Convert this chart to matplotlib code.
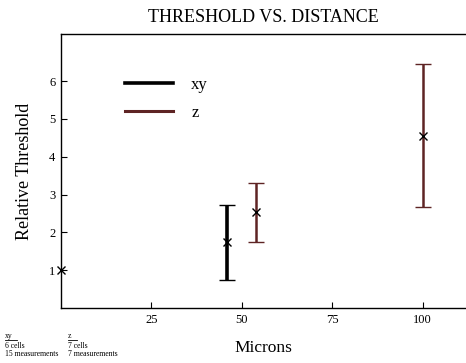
import matplotlib
matplotlib.use("Agg")
import matplotlib.pyplot as plt
from matplotlib.lines import Line2D

# data
xy_x = [0, 46]
xy_y = [1.0, 1.75]
xy_lo = [0.0, 1.0]   # distance below point
xy_hi = [0.0, 0.97]  # distance above point

z_x = [54, 100]
z_y = [2.53, 4.55]
z_lo = [0.77, 1.88]
z_hi = [0.79, 1.90]

xticks = [25, 50, 75, 100]
yticks = [1, 2, 3, 4, 5, 6]

z_color = "#5e2424"
serif = ["Liberation Serif", "DejaVu Serif"]


def main():
    plt.rcParams["font.family"] = serif
    fig = plt.figure(figsize=(4.66, 3.63), dpi=100)
    ax = fig.add_axes([0.131, 0.151, 0.869, 0.755])

    # xy series: first point has no bar
    ax.plot(xy_x[:1], xy_y[:1], "x", color="black", ms=6, mew=1.0, clip_on=False, zorder=5)
    eb1 = ax.errorbar(xy_x[1:], xy_y[1:], yerr=[xy_lo[1:], xy_hi[1:]], fmt="x", color="black",
                      ecolor="black", elinewidth=2.6, capsize=5.5, capthick=1.3, ms=6, mew=1.0)
    eb2 = ax.errorbar(z_x, z_y, yerr=[z_lo, z_hi], fmt="x", color="black",
                      ecolor=z_color, elinewidth=1.8, capsize=5.5, capthick=1.3, ms=6, mew=1.0)
    for cap in list(eb1[1]) + list(eb2[1]):
        cap.set_color("black")

    ax.set_xlim(0, 112)
    ax.set_ylim(0, 7.24)
    ax.set_xticks(xticks)
    ax.set_yticks(yticks)
    ax.tick_params(direction="in", length=4, width=0.8, labelsize=9, pad=4)
    for s in ax.spines.values():
        s.set_linewidth(1.0)
    ax.spines["right"].set_visible(False)

    ax.set_title("THRESHOLD VS. DISTANCE", fontsize=13, pad=9)
    ax.set_xlabel("Microns", fontsize=12.5, labelpad=10)
    ax.set_ylabel("Relative Threshold", fontsize=13, labelpad=12)

    handles = [Line2D([], [], color="black", lw=2.6),
               Line2D([], [], color=z_color, lw=2.2)]
    ax.legend(handles, ["xy", "z"], frameon=False, fontsize=12,
              loc="upper left", bbox_to_anchor=(0.12, 0.90),
              handlelength=2.9, handletextpad=1.1, labelspacing=0.75)

    # footnote in the lower-left corner
    fig.text(0.011, 0.068, "xy", fontsize=5.5, ha="left")
    fig.add_artist(Line2D([0.011, 0.036], [0.064, 0.064], color="black", lw=0.6))
    fig.text(0.011, 0.040, "6 cells", fontsize=5.5, ha="left")
    fig.text(0.011, 0.020, "15 measurements", fontsize=5.5, ha="left")
    fig.text(0.146, 0.068, "z", fontsize=5.5, ha="left")
    fig.add_artist(Line2D([0.146, 0.166], [0.064, 0.064], color="black", lw=0.6))
    fig.text(0.146, 0.040, "7 cells", fontsize=5.5, ha="left")
    fig.text(0.146, 0.020, "7 measurements", fontsize=5.5, ha="left")

    fig.savefig("out.png", dpi=100)


if __name__ == "__main__":
    main()
